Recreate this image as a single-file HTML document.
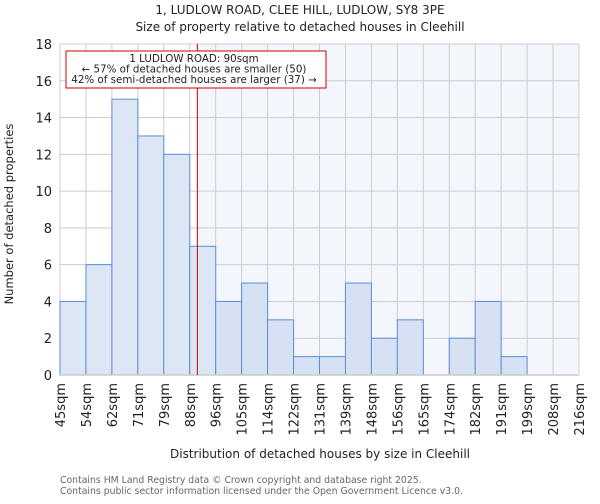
<!DOCTYPE html>
<html><head><meta charset="utf-8"><style>
body{margin:0;background:#fff;font-family:"DejaVu Sans","Liberation Sans",sans-serif;}
svg text{font-family:"DejaVu Sans","Liberation Sans",sans-serif;fill:#222}
</style></head><body>
<svg id="chart" width="600" height="500" viewBox="0 0 600 500" xmlns="http://www.w3.org/2000/svg">
<text x="300" y="14" text-anchor="middle" font-size="12">1, LUDLOW ROAD, CLEE HILL, LUDLOW, SY8 3PE</text>
<text x="300" y="31" text-anchor="middle" font-size="12">Size of property relative to detached houses in Cleehill</text>
<rect x="196" y="44" width="383" height="331" fill="#f3f6fd"/>
<g id="grid"></g>
<g id="bars"></g>
<g id="axes"></g>
<text transform="translate(13,214) rotate(-90)" text-anchor="middle" font-size="11.5">Number of detached properties</text>
<text x="320" y="458" text-anchor="middle" font-size="12">Distribution of detached houses by size in Cleehill</text>
<text x="60" y="483" font-size="9.3" style="fill:#666">Contains HM Land Registry data © Crown copyright and database right 2025.</text>
<text x="60" y="494" font-size="9.3" style="fill:#666">Contains public sector information licensed under the Open Government Licence v3.0.</text>
</svg>
<script>
const categories=["45sqm","54sqm","62sqm","71sqm","79sqm","88sqm","96sqm","105sqm","114sqm","122sqm","131sqm","139sqm","148sqm","156sqm","165sqm","174sqm","182sqm","191sqm","199sqm","208sqm","216sqm"];
const counts=[4,6,15,13,12,7,4,5,3,1,1,5,2,3,0,2,4,1,0,0];
const yTicks=[0,2,4,6,8,10,12,14,16,18];
const binEdges=[45,53.5,62,70.5,79,87.5,96,104.5,113,121.5,130,138.5,147,155.5,164,172.5,181,189.5,198,206.5,215];
const propertySize=90;
const NS="http://www.w3.org/2000/svg";
const L=60,R=579,T=44,B=375,yMax=18;
const xs=i=>L+(R-L)*i/counts.length;
const ys=v=>B-(B-T)*v/yMax;
const xv=v=>{for(let i=0;i<binEdges.length-1;i++){if(v<=binEdges[i+1])return xs(i)+(v-binEdges[i])/(binEdges[i+1]-binEdges[i])*(xs(i+1)-xs(i));}return R;};
function mk(tag,attrs,parent){const e=document.createElementNS(NS,tag);for(const k in attrs)e.setAttribute(k,attrs[k]);parent.appendChild(e);return e;}
const grid=document.getElementById('grid'),bars=document.getElementById('bars'),axes=document.getElementById('axes');
yTicks.forEach(t=>{
 const g=mk('line',{x1:L,x2:R,y1:ys(t),y2:ys(t),stroke:'#cccccc','stroke-width':1},grid);
 
 
 const tx=mk('text',{x:L-8,y:ys(t)+5,'text-anchor':'end','font-size':13},axes);
 
 
 tx.textContent=t;
});
for(let i=0;i<=counts.length;i++){
 const g=mk('line',{x1:xs(i),x2:xs(i),y1:T,y2:B,stroke:'#cccccc','stroke-width':1},grid);
 
 
 const tx=mk('text',{transform:`translate(${xs(i)+5},${B+8}) rotate(-90)`,'text-anchor':'end','font-size':13},axes);
 
 
 tx.textContent=categories[i];
}
const px=xv(propertySize);
counts.forEach((c,i)=>{
 if(c<=0)return;
 const r=mk('rect',{x:xs(i),y:ys(c),width:xs(i+1)-xs(i),height:B-ys(c),fill:xs(i)<px?'#dce6f4':'#d6e1f3',stroke:'#5b8ed6','stroke-width':1},bars);
 
 
});
const ax=mk('line',{x1:L,x2:R,y1:B,y2:B,stroke:'#cccccc','stroke-width':1.5},axes);


const rl=mk('line',{x1:px,x2:px,y1:T,y2:B,stroke:'#dd0000','stroke-width':1},axes);


const box=mk('rect',{x:66,y:51,width:260,height:37,fill:'#fff',stroke:'#cc0000','stroke-width':1},axes);


[["1 LUDLOW ROAD: 90sqm",62],["← 57% of detached houses are smaller (50)",72.5],["42% of semi-detached houses are larger (37) →",83]].forEach(([s,y])=>{
 const t=mk('text',{x:194,y:y,'text-anchor':'middle','font-size':10.3},axes);
 
 
 t.textContent=s;
});
</script>
</body></html>
